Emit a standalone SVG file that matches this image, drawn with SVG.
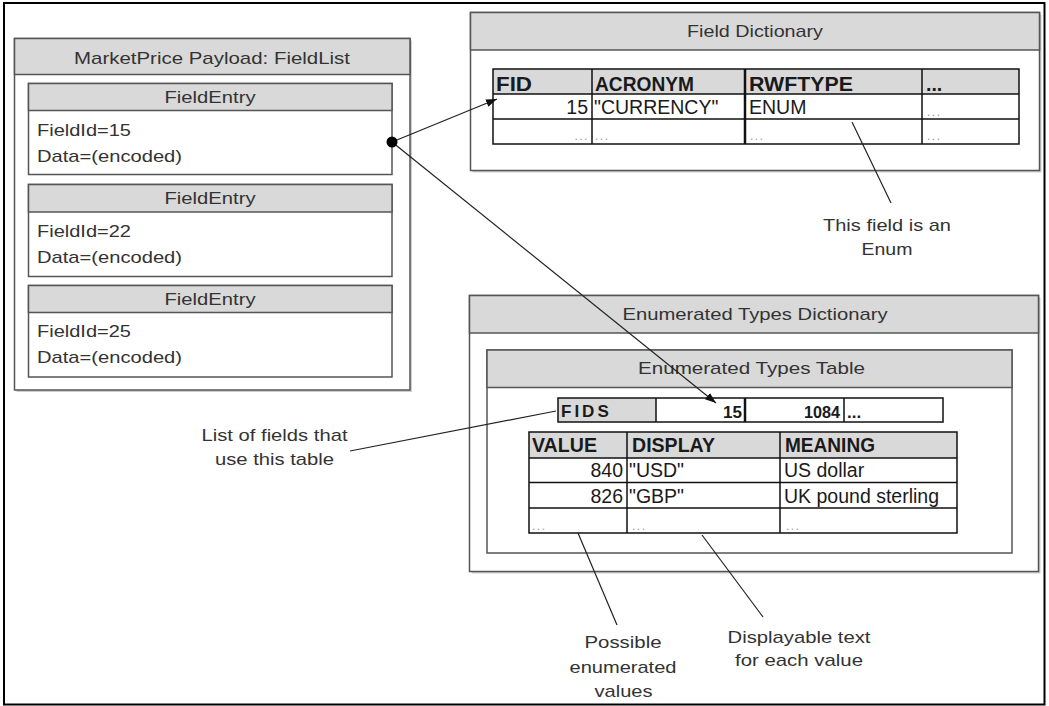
<svg xmlns="http://www.w3.org/2000/svg" width="1049" height="706" viewBox="0 0 1049 706">
<style>
.box{fill:#fff;stroke:#555;stroke-width:1.5}
.hdr{fill:#d9d9d9;stroke:#555;stroke-width:1.5}
.shd{fill:#cfcfcf;stroke:none}
.lbl{font-family:"Liberation Sans",Arial,sans-serif;font-size:17px;fill:#333}
.tt{font-family:"Liberation Sans",Arial,sans-serif;font-size:19.5px;fill:#1a1a1a}
.th{font-family:"Liberation Sans",Arial,sans-serif;font-size:19.5px;font-weight:bold;fill:#1a1a1a}
.fh{font-family:"Liberation Sans",Arial,sans-serif;font-size:17px;font-weight:bold;fill:#1a1a1a}
.dots{font-family:"Liberation Sans",Arial,sans-serif;font-size:12px;fill:#999;letter-spacing:1.5px}
.grid{fill:none;stroke:#111;stroke-width:1.5}
.gh{fill:#d9d9d9;stroke:none}
.conn{stroke:#222;stroke-width:1.2;fill:none}
</style>
<defs>
<marker id="ah" markerWidth="12" markerHeight="10" refX="11" refY="4.5" orient="auto" markerUnits="userSpaceOnUse"><path d="M0,0.5 L11,4.5 L0,8.5 z" fill="#111"/></marker>
</defs>
<rect x="4" y="3" width="1040.5" height="701.5" fill="#fff" stroke="#000" stroke-width="2"/>

<g id="fieldlist">
<rect class="shd" x="16.5" y="40.5" width="395.5" height="351.5"/>
<rect class="box" x="14.5" y="38.5" width="395.5" height="351.5"/>
<rect class="hdr" x="14.5" y="38.5" width="395.5" height="36"/>
<text class="lbl" x="212" y="64" text-anchor="middle" textLength="276" lengthAdjust="spacingAndGlyphs">MarketPrice Payload: FieldList</text>
</g>

<g id="fieldentry1">
<rect class="box" x="28.5" y="83.5" width="363.5" height="91"/>
<rect class="hdr" x="28.5" y="83.5" width="363.5" height="27"/>
<text class="lbl" x="210" y="103" text-anchor="middle" textLength="91" lengthAdjust="spacingAndGlyphs">FieldEntry</text>
<text class="lbl" x="37" y="136" textLength="94" lengthAdjust="spacingAndGlyphs">FieldId=15</text>
<text class="lbl" x="37" y="162" textLength="145" lengthAdjust="spacingAndGlyphs">Data=(encoded)</text>
</g>

<g id="fieldentry2">
<rect class="box" x="28.5" y="184.5" width="363.5" height="92"/>
<rect class="hdr" x="28.5" y="184.5" width="363.5" height="27.5"/>
<text class="lbl" x="210" y="204" text-anchor="middle" textLength="91" lengthAdjust="spacingAndGlyphs">FieldEntry</text>
<text class="lbl" x="37" y="237" textLength="94" lengthAdjust="spacingAndGlyphs">FieldId=22</text>
<text class="lbl" x="37" y="263" textLength="145" lengthAdjust="spacingAndGlyphs">Data=(encoded)</text>
</g>

<g id="fieldentry3">
<rect class="box" x="28.5" y="285.5" width="363.5" height="91.5"/>
<rect class="hdr" x="28.5" y="285.5" width="363.5" height="27"/>
<text class="lbl" x="210" y="304.5" text-anchor="middle" textLength="91" lengthAdjust="spacingAndGlyphs">FieldEntry</text>
<text class="lbl" x="37" y="337" textLength="94" lengthAdjust="spacingAndGlyphs">FieldId=25</text>
<text class="lbl" x="37" y="363" textLength="145" lengthAdjust="spacingAndGlyphs">Data=(encoded)</text>
</g>

<g id="fielddictionary">
<rect class="shd" x="472.5" y="14.5" width="569" height="158"/>
<rect class="box" x="470.5" y="12.5" width="569" height="158"/>
<rect class="hdr" x="470.5" y="12.5" width="569" height="37.5"/>
<text class="lbl" x="755" y="37" text-anchor="middle" textLength="136" lengthAdjust="spacingAndGlyphs">Field Dictionary</text>
<rect class="gh" x="493" y="69" width="526" height="25"/>
<rect class="grid" x="493" y="69" width="526" height="75"/>
<path class="grid" d="M493,94H1019M493,119H1019M592,69V144M922,69V144"/>
<path class="grid" d="M745,69V144" style="stroke-width:2.5"/>
<text class="th" x="496" y="91" textLength="36" lengthAdjust="spacingAndGlyphs">FID</text>
<text class="th" x="595" y="91" textLength="99" lengthAdjust="spacingAndGlyphs">ACRONYM</text>
<text class="th" x="749" y="91" textLength="104" lengthAdjust="spacingAndGlyphs">RWFTYPE</text>
<text class="th" x="926" y="91">...</text>
<text class="tt" x="588" y="114" text-anchor="end">15</text>
<text class="tt" x="594" y="114">"CURRENCY"</text>
<text class="tt" x="749" y="114">ENUM</text>
<text class="dots" x="927" y="116">...</text>
<text class="dots" x="589" y="140" text-anchor="end">...</text>
<text class="dots" x="595" y="140">...</text>
<text class="dots" x="750" y="140">...</text>
<text class="dots" x="927" y="140">...</text>
</g>

<g id="enumdictionary">
<rect class="shd" x="471.5" y="297.5" width="569" height="276"/>
<rect class="box" x="469.5" y="295.5" width="569" height="276"/>
<rect class="hdr" x="469.5" y="295.5" width="569" height="37.5"/>
<text class="lbl" x="755" y="320" text-anchor="middle" textLength="265" lengthAdjust="spacingAndGlyphs">Enumerated Types Dictionary</text>
</g>

<g id="enumtable">
<rect class="box" x="487" y="350" width="525" height="203"/>
<rect class="hdr" x="487" y="350" width="525" height="37.5"/>
<text class="lbl" x="751.5" y="373.5" text-anchor="middle" textLength="227" lengthAdjust="spacingAndGlyphs">Enumerated Types Table</text>
<rect class="gh" x="558" y="398" width="98" height="24"/>
<rect class="grid" x="558" y="398" width="385" height="24"/>
<path class="grid" d="M656,398V422M844,398V422"/>
<path class="grid" d="M745,398V422" style="stroke-width:2.5"/>
<text class="fh" x="561" y="417" style="letter-spacing:3px">FIDS</text>
<text class="fh" x="742" y="418" text-anchor="end">15</text>
<text class="fh" x="840" y="418" text-anchor="end" textLength="36" lengthAdjust="spacingAndGlyphs">1084</text>
<text class="fh" x="847" y="418">...</text>
<rect class="gh" x="529" y="432" width="428" height="26"/>
<rect class="grid" x="529" y="432" width="428" height="101"/>
<path class="grid" d="M529,458H957M529,482.5H957M529,508H957M627,432V533M780,432V533"/>
<text class="th" x="532" y="452" textLength="65" lengthAdjust="spacingAndGlyphs">VALUE</text>
<text class="th" x="632" y="452" textLength="83" lengthAdjust="spacingAndGlyphs">DISPLAY</text>
<text class="th" x="785" y="452" textLength="90" lengthAdjust="spacingAndGlyphs">MEANING</text>
<text class="tt" x="623" y="477" text-anchor="end">840</text>
<text class="tt" x="629" y="477">"USD"</text>
<text class="tt" x="784" y="477">US dollar</text>
<text class="tt" x="623" y="503" text-anchor="end">826</text>
<text class="tt" x="629" y="503">"GBP"</text>
<text class="tt" x="784" y="503">UK pound sterling</text>
<text class="dots" x="532" y="530">...</text>
<text class="dots" x="632" y="530">...</text>
<text class="dots" x="786" y="530">...</text>
</g>

<g id="labels">
<text class="lbl" x="887" y="230.5" text-anchor="middle" textLength="128" lengthAdjust="spacingAndGlyphs">This field is an</text>
<text class="lbl" x="887" y="255" text-anchor="middle" textLength="51" lengthAdjust="spacingAndGlyphs">Enum</text>
<text class="lbl" x="274.5" y="441" text-anchor="middle" textLength="146" lengthAdjust="spacingAndGlyphs">List of fields that</text>
<text class="lbl" x="274.5" y="465" text-anchor="middle" textLength="119" lengthAdjust="spacingAndGlyphs">use this table</text>
<text class="lbl" x="623" y="648" text-anchor="middle" textLength="77" lengthAdjust="spacingAndGlyphs">Possible</text>
<text class="lbl" x="623" y="673" text-anchor="middle" textLength="107" lengthAdjust="spacingAndGlyphs">enumerated</text>
<text class="lbl" x="623.5" y="697" text-anchor="middle" textLength="58" lengthAdjust="spacingAndGlyphs">values</text>
<text class="lbl" x="799" y="643" text-anchor="middle" textLength="143" lengthAdjust="spacingAndGlyphs">Displayable text</text>
<text class="lbl" x="799" y="666" text-anchor="middle" textLength="128" lengthAdjust="spacingAndGlyphs">for each value</text>
</g>

<g id="connectors">
<line class="conn" x1="392" y1="142" x2="497" y2="99" marker-end="url(#ah)"/>
<line class="conn" x1="392" y1="142" x2="716" y2="403" marker-end="url(#ah)"/>
<line class="conn" x1="852" y1="122" x2="891" y2="203"/>
<line class="conn" x1="556" y1="411" x2="350" y2="451"/>
<line class="conn" x1="578" y1="533" x2="617" y2="625"/>
<line class="conn" x1="702" y1="535" x2="763" y2="617"/>
<circle cx="392" cy="142" r="5.5" fill="#000"/>
</g>
</svg>
